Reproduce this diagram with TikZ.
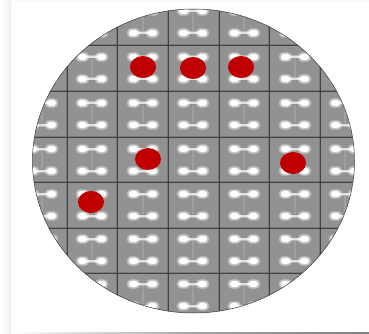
\documentclass[tikz,border=0pt]{standalone}
\usetikzlibrary{calc}
\definecolor{WaferClr}{RGB}{146,146,146}
\definecolor{GridClr}{RGB}{58,58,58}
\definecolor{DotClr}{RGB}{192,0,0}
\definecolor{StripClr}{RGB}{240,240,240}
\tikzset{
  glow/.style={line cap=round,white,opacity=0.3},
  gridline/.style={GridClr,line width=0.8pt,opacity=0.85},
  gridhalo/.style={GridClr,line width=2.6pt,opacity=0.28},
  dumbbell/.pic={
    \draw[white,opacity=0.35,line width=3pt] (-9,0) -- (9,0);
    \draw[white,opacity=0.6,line width=1.4pt] (-9,0) -- (9,0);
    \foreach \s in {-1,1}{
      \draw[glow,line width=10pt] (\s*7.5,0) -- (\s*11.5,0);
      \draw[glow,line width=8pt] (\s*7.5,0) -- (\s*11.5,0);
      \draw[white,line cap=round,line width=6pt] (\s*8,0) -- (\s*11,0);
    }
  },
  diescribe/.pic={
    \draw[white,opacity=0.12,line width=2.5pt] (0,-9) -- (0,9);
  }
}

\begin{document}
\begin{tikzpicture}[x=1pt,y=-1pt]
\useasboundingbox (0,0) rectangle (369,334);
\fill[white] (0,0) rectangle (369,334);
\shade[left color=white,right color=StripClr] (0,0) rectangle (11,334);
\fill[StripClr!40] (11,0) rectangle (369,1);
\shade[left color=white,right color=gray,middle color=gray!70] (11,332) rectangle (369,333.5);

\coordinate (center) at (193.5,161);

\begin{scope}
\clip (center) ellipse [x radius=161,y radius=152];
\fill[WaferClr] (center) ellipse [x radius=161,y radius=152];

% dies
\foreach \cx in {42,92,143,193,244,295,345}
  \foreach \cy in {22,68,114,160,205,250,295}{
    \pic at (\cx,\cy) {diescribe};
    \pic at (\cx,\cy-11) {dumbbell};
    \pic at (\cx,\cy+11) {dumbbell};
  }

% saw lines
\foreach \gx in {67,117,168,219,269,320}{
  \draw[gridhalo] (\gx,0) -- (\gx,334);
  \draw[gridline] (\gx,0) -- (\gx,334);
}
\foreach \gy in {45,91,137,182,228,273}{
  \draw[gridhalo] (0,\gy) -- (369,\gy);
  \draw[gridline] (0,\gy) -- (369,\gy);
}
\end{scope}

\draw[GridClr,line width=0.5pt] (center) ellipse [x radius=161,y radius=152];

% defects
\foreach \dx/\dy in {143/67,193/68,241/67,148/159,293/163,91/202}
  \fill[DotClr] (\dx,\dy) ellipse [x radius=13,y radius=11];
\end{tikzpicture}
\end{document}
